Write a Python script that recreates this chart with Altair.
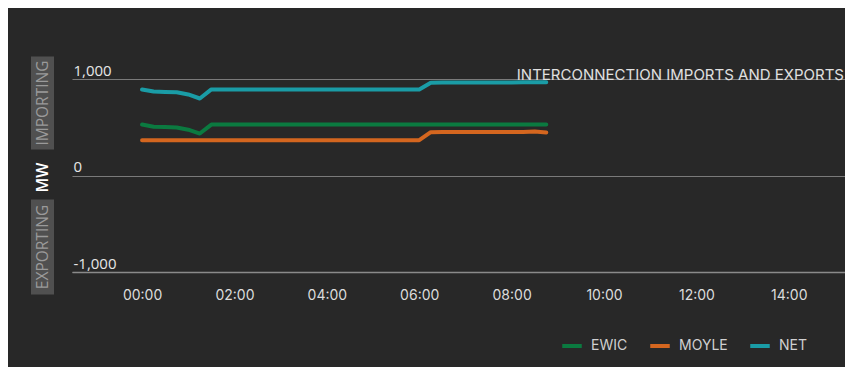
import altair as alt
import pandas as pd

times = pd.date_range("2024-01-01 00:00", "2024-01-01 08:45", freq="15min").strftime("%Y-%m-%dT%H:%M:%S").tolist()

ewic = [528, 506, 502, 497, 475, 435, 528, 528, 528, 528, 528, 528,
        528, 528, 528, 528, 528, 528, 528, 528, 528, 528, 528, 528,
        528, 528, 528, 528, 528, 528, 528, 528, 528, 528, 528, 528]
moyle = [366, 366, 366, 366, 366, 366, 366, 366, 366, 366, 366, 366,
         366, 366, 366, 366, 366, 366, 366, 366, 366, 366, 366, 366,
         366, 449, 450, 450, 450, 450, 450, 450, 451, 452, 456, 445]
net = [892, 870, 866, 862, 840, 798, 892, 892, 892, 892, 892, 892,
       892, 892, 892, 892, 892, 892, 892, 892, 892, 892, 892, 892,
       892, 962, 963, 963, 963, 964, 964, 964, 965, 966, 967, 966]

series = ["EWIC", "MOYLE", "NET"]
colors = ["#0b7a40", "#d4661f", "#1a9ca6"]
chart_title = "INTERCONNECTION IMPORTS AND EXPORTS"

rows = []
for name, vals in zip(series, [ewic, moyle, net]):
    for t, v in zip(times, vals):
        rows.append({"time": t, "series": name, "MW": v})
df = pd.DataFrame(rows)

tick_times = ["2024-01-01T%02d:00:00" % h for h in [0, 2, 4, 6, 8, 10, 12, 14]]
x_domain = ["2023-12-31T22:29:00", "2024-01-01T15:13:00"]

bg = "#282828"
grid = "#7a7a7a"

x = alt.X("time:T", scale=alt.Scale(domain=x_domain),
          axis=alt.Axis(values=tick_times, format="%H:%M", title=None,
                        grid=False, ticks=False, domain=True, domainColor="#8a8a8a",
                        domainWidth=1.5, labelColor="#dcdcdc", labelFontSize=14,
                        labelFont="Inter", labelPadding=16))
y = alt.Y("MW:Q", scale=alt.Scale(domain=[-1000, 1000]),
          axis=alt.Axis(values=[-1000, 0, 1000],
                        labelExpr="(datum.value < 0 ? '-' : '') + format(abs(datum.value), ',')",
                        title="MW",
                        titleColor="#ffffff", titleFontSize=16, titleFont="Open Sans",
                        titleFontWeight=600, titleAngle=-90, titleX=-30, titleY=98,
                        titleAlign="center", titleBaseline="middle",
                        grid=True, gridColor=grid, gridWidth=1, ticks=False, domain=False,
                        labelAlign="left", labelBaseline="alphabetic", labelPadding=-1,
                        labelOffset=-4, labelColor="#e6e6e6", labelFontSize=15,
                        labelFont="Open Sans"))

lines = alt.Chart(df).mark_line(strokeWidth=4, strokeCap="round", strokeJoin="round").encode(
    x=x, y=y,
    color=alt.Color("series:N", scale=alt.Scale(domain=series, range=colors),
                    legend=alt.Legend(title=None, orient="none", legendX=488, legendY=255,
                                      direction="horizontal", symbolType="stroke",
                                      symbolSize=380, symbolStrokeWidth=4,
                                      labelColor="#d0d0d0", labelFontSize=14, labelFont="Inter",
                                      labelOffset=7, columnPadding=14)),
)

box_labels = ["IMPORTING", "EXPORTING"]
box_top = [1233, -249]
box_bot = [269, -1233]
box_mid = [751, -741]
boxes_df = pd.DataFrame({"label": box_labels, "top": box_top, "bot": box_bot, "mid": box_mid})

boxes = alt.Chart(boxes_df).mark_rect(color="#505050", clip=False).encode(
    x=alt.value(-41), x2=alt.value(-18), y="top:Q", y2="bot:Q")
box_text = alt.Chart(boxes_df).mark_text(angle=270, color="#9a9a9a", fontSize=15.5,
                                          font="Open Sans", baseline="middle", align="center",
                                          clip=False).encode(
    x=alt.value(-29.5), y="mid:Q", text="label:N")

title_text = alt.Chart(pd.DataFrame({"t": [chart_title]})).mark_text(
    align="right", baseline="alphabetic", color="#e0e0e0", fontSize=15, font="Inter",
    clip=False).encode(x=alt.value(772), y=alt.value(1), text="t:N")

chart = alt.layer(boxes, box_text, lines, title_text).properties(
    width=773, height=193,
    background=bg,
    padding={"left": 64, "top": 71, "right": 0, "bottom": 95},
    autosize=alt.AutoSizeParams(type="none"),
).configure_view(stroke=None)

chart.save("out.html", embed_options={"renderer": "svg", "actions": False})
